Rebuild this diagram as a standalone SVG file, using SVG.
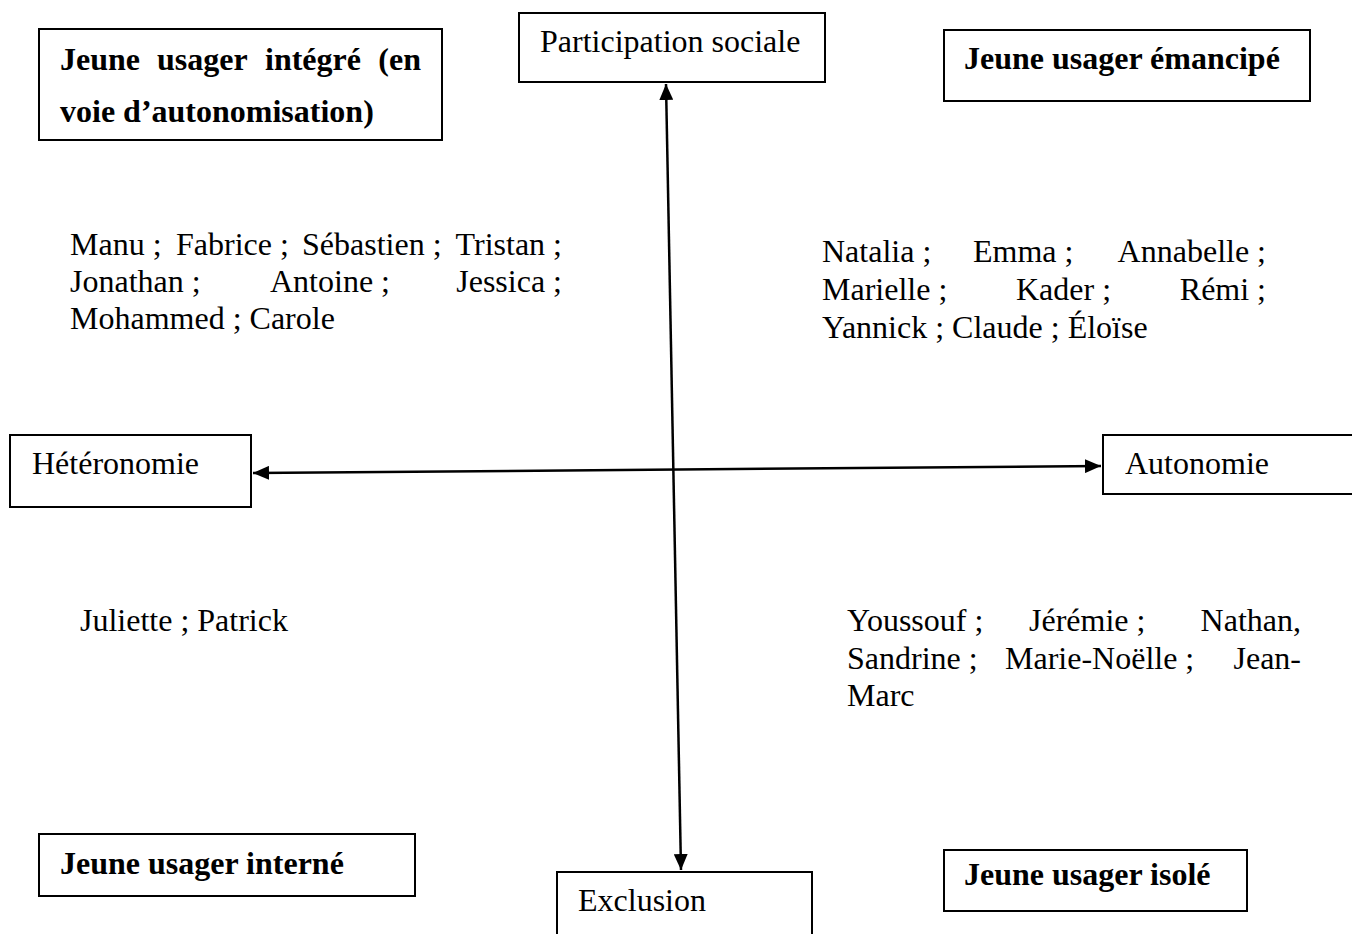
<svg xmlns="http://www.w3.org/2000/svg" width="1352" height="934" viewBox="0 0 1352 934">
  <style>
    .box { fill: #ffffff; stroke: #000000; stroke-width: 2; }
    .t { font-family: "Liberation Serif", "Times New Roman", serif; font-size: 32px; fill: #000000; }
    .b { font-weight: bold; }
    .axis { stroke: #000000; stroke-width: 2.5; fill: none; }
  </style>
  <defs>
    <marker id="arrow" viewBox="0 0 16 14" refX="16" refY="7" markerWidth="16" markerHeight="14" markerUnits="userSpaceOnUse" orient="auto-start-reverse">
      <path d="M0,0 L16,7 L0,14 Z" fill="#000000"/>
    </marker>
  </defs>
  <rect width="1352" height="934" fill="#ffffff"/>

  <!-- axes -->
  <g id="connectors">
    <line class="axis" x1="666" y1="84" x2="681" y2="870" marker-start="url(#arrow)" marker-end="url(#arrow)"/>
    <line class="axis" x1="253" y1="473" x2="1101" y2="466" marker-start="url(#arrow)" marker-end="url(#arrow)"/>
  </g>

  <!-- quadrant titles -->
  <g id="integre">
    <rect class="box" x="39" y="29" width="403" height="111"/>
    <text class="t b" y="70"><tspan x="60">Jeune</tspan><tspan x="157">usager</tspan><tspan x="265">intégré</tspan><tspan x="421" text-anchor="end">(en</tspan></text>
    <text class="t b" x="60" y="122">voie d’autonomisation)</text>
  </g>
  <g id="emancipe">
    <rect class="box" x="944" y="30" width="366" height="71"/>
    <text class="t b" x="964" y="69">Jeune usager émancipé</text>
  </g>
  <g id="interne">
    <rect class="box" x="39" y="834" width="376" height="62"/>
    <text class="t b" x="60" y="874">Jeune usager interné</text>
  </g>
  <g id="isole">
    <rect class="box" x="944" y="850" width="303" height="61"/>
    <text class="t b" x="964" y="885">Jeune usager isolé</text>
  </g>

  <!-- axis poles -->
  <g id="participation">
    <rect class="box" x="519" y="13" width="306" height="69"/>
    <text class="t" x="540" y="52">Participation sociale</text>
  </g>
  <g id="exclusion">
    <rect class="box" x="557" y="872" width="255" height="70"/>
    <text class="t" x="578" y="911">Exclusion</text>
  </g>
  <g id="heteronomie">
    <rect class="box" x="10" y="435" width="241" height="72"/>
    <text class="t" x="32" y="474">Hétéronomie</text>
  </g>
  <g id="autonomie">
    <rect class="box" x="1103" y="435" width="260" height="59"/>
    <text class="t" x="1125" y="474">Autonomie</text>
  </g>

  <!-- names -->
  <g id="names-integre">
    <text class="t" y="255"><tspan x="70">Manu ;</tspan><tspan x="176">Fabrice ;</tspan><tspan x="302">Sébastien ;</tspan><tspan x="562" text-anchor="end">Tristan ;</tspan></text>
    <text class="t" y="292"><tspan x="70">Jonathan ;</tspan><tspan x="270">Antoine ;</tspan><tspan x="562" text-anchor="end">Jessica ;</tspan></text>
    <text class="t" x="70" y="329">Mohammed ; Carole</text>
  </g>
  <g id="names-emancipe">
    <text class="t" y="262"><tspan x="822">Natalia ;</tspan><tspan x="973">Emma ;</tspan><tspan x="1266" text-anchor="end">Annabelle ;</tspan></text>
    <text class="t" y="300"><tspan x="822">Marielle ;</tspan><tspan x="1016">Kader ;</tspan><tspan x="1266" text-anchor="end">Rémi ;</tspan></text>
    <text class="t" x="822" y="338">Yannick ; Claude ; Éloïse</text>
  </g>
  <g id="names-interne">
    <text class="t" x="80" y="631">Juliette ; Patrick</text>
  </g>
  <g id="names-isole">
    <text class="t" y="631"><tspan x="847">Youssouf ;</tspan><tspan x="1029">Jérémie ;</tspan><tspan x="1301" text-anchor="end">Nathan,</tspan></text>
    <text class="t" y="669"><tspan x="847">Sandrine ;</tspan><tspan x="1005">Marie-Noëlle ;</tspan><tspan x="1301" text-anchor="end">Jean-</tspan></text>
    <text class="t" x="847" y="706">Marc</text>
  </g>
</svg>
